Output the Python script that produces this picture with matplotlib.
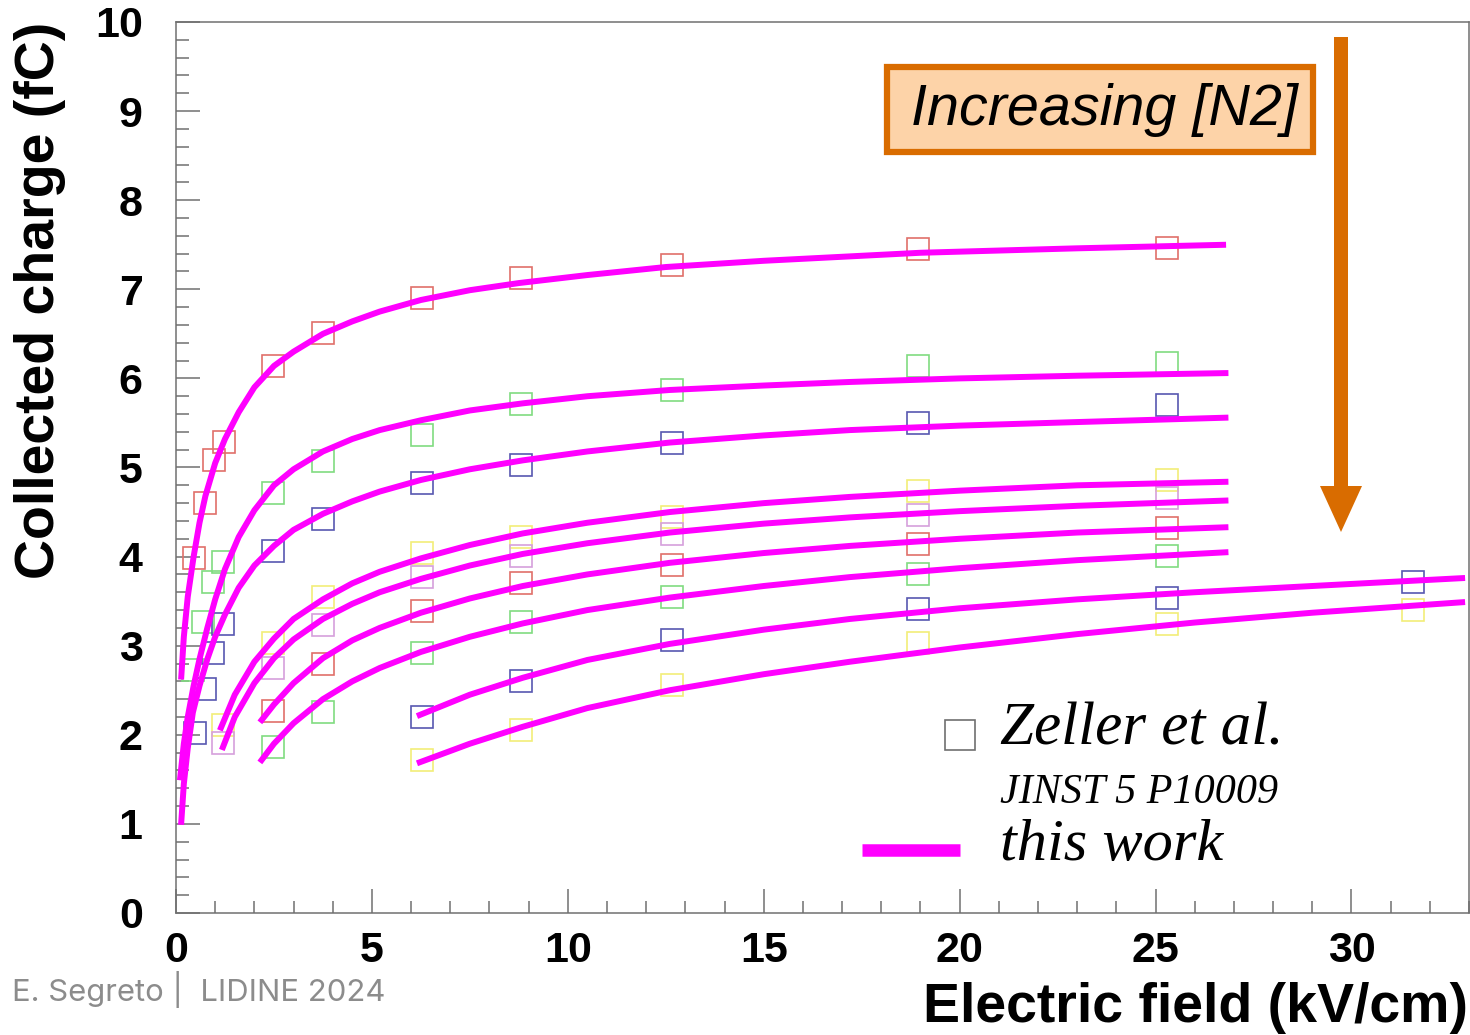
import numpy as np
import matplotlib
matplotlib.use('Agg')
import matplotlib.pyplot as plt
from matplotlib.patches import FancyArrow, Rectangle
from matplotlib.lines import Line2D

# Zeller et al. data (field kV/cm, charge fC), one list per N2 concentration
zx1 = [0.46, 0.74, 0.97, 1.22, 2.47, 3.75, 6.28, 8.8, 12.65, 18.95, 25.28]
zy1 = [3.98, 4.60, 5.08, 5.29, 6.14, 6.51, 6.90, 7.13, 7.27, 7.45, 7.46]
zx2 = [0.43, 0.69, 0.94, 1.2, 2.47, 3.75, 6.28, 8.8, 12.65, 18.95, 25.28]
zy2 = [2.73, 3.27, 3.71, 3.94, 4.71, 5.07, 5.36, 5.71, 5.87, 6.14, 6.17]
zx3 = [0.48, 0.74, 0.94, 1.2, 2.47, 3.75, 6.28, 8.8, 12.65, 18.95, 25.28]
zy3 = [2.02, 2.51, 2.92, 3.24, 4.06, 4.42, 4.83, 5.03, 5.27, 5.50, 5.70]
zx4 = [1.2, 2.47, 3.75, 6.28, 8.8, 12.65, 18.95, 25.28]
zy4 = [2.11, 3.03, 3.55, 4.04, 4.22, 4.45, 4.74, 4.86]
zx5 = [1.2, 2.47, 3.75, 6.28, 8.8, 12.65, 18.95, 25.28]
zy5 = [1.91, 2.75, 3.23, 3.77, 4.01, 4.25, 4.47, 4.66]
zx6 = [2.47, 3.75, 6.28, 8.8, 12.65, 18.95, 25.28]
zy6 = [2.27, 2.79, 3.39, 3.70, 3.91, 4.14, 4.32]
zx7 = [2.47, 3.75, 6.28, 8.8, 12.65, 18.95, 25.28]
zy7 = [1.86, 2.26, 2.92, 3.27, 3.55, 3.80, 4.01]
zx8 = [6.28, 8.8, 12.65, 18.95, 25.28, 31.58]
zy8 = [2.20, 2.60, 3.06, 3.41, 3.54, 3.71]
zx9 = [6.28, 8.8, 12.65, 18.95, 25.28, 31.58]
zy9 = [1.72, 2.05, 2.56, 3.03, 3.24, 3.40]
zcolors = ['#e0706a', '#80dc80', '#5858b0', '#f2ee78', '#d6a0dc',
           '#e0706a', '#80dc80', '#5858b0', '#f2ee78']

# this work (fit curves)
cx1 = [0.13, 0.2, 0.3, 0.45, 0.6, 0.75, 1.0, 1.25, 1.6, 2.0, 2.5, 3.0, 3.75, 4.5, 5.2, 6.25, 7.5, 8.75, 10.5, 12.5, 15, 19, 23, 26.8]
cy1 = [2.62, 3.1, 3.55, 4.0, 4.38, 4.68, 5.05, 5.32, 5.62, 5.9, 6.14, 6.3, 6.5, 6.64, 6.75, 6.88, 6.99, 7.07, 7.16, 7.25, 7.32, 7.41, 7.46, 7.5]
cx2 = [0.1, 0.2, 0.3, 0.45, 0.6, 0.8, 1.0, 1.25, 1.6, 2.0, 2.5, 3.0, 3.75, 4.5, 5.2, 6.25, 7.5, 8.85, 10.5, 12.6, 15, 17.2, 20, 23, 26.86]
cy2 = [1.49, 1.9, 2.2, 2.55, 2.85, 3.2, 3.52, 3.86, 4.22, 4.52, 4.8, 4.98, 5.18, 5.32, 5.42, 5.53, 5.64, 5.72, 5.8, 5.87, 5.92, 5.96, 6.0, 6.03, 6.06]
cx3 = [0.13, 0.2, 0.3, 0.43, 0.6, 0.8, 1.0, 1.25, 1.6, 2.0, 2.5, 3.0, 3.75, 4.5, 5.2, 6.25, 7.5, 8.85, 10.5, 12.6, 15, 17.2, 20, 23, 26.86]
cy3 = [0.99, 1.45, 1.85, 2.25, 2.55, 2.85, 3.1, 3.35, 3.65, 3.9, 4.12, 4.3, 4.48, 4.62, 4.73, 4.86, 4.98, 5.08, 5.18, 5.28, 5.36, 5.42, 5.47, 5.51, 5.56]
cx4 = [1.12, 1.5, 2.0, 2.5, 3.0, 3.75, 4.5, 5.2, 6.25, 7.5, 8.85, 10.5, 12.6, 15, 17.2, 20, 23, 26.86]
cy4 = [2.05, 2.45, 2.82, 3.08, 3.3, 3.52, 3.7, 3.83, 3.98, 4.13, 4.26, 4.38, 4.5, 4.6, 4.67, 4.74, 4.8, 4.84]
cx5 = [1.17, 1.5, 2.0, 2.5, 3.0, 3.75, 4.5, 5.2, 6.25, 7.5, 8.85, 10.5, 12.6, 15, 17.2, 20, 23, 26.86]
cy5 = [1.83, 2.2, 2.58, 2.86, 3.07, 3.3, 3.47, 3.6, 3.75, 3.9, 4.03, 4.15, 4.27, 4.37, 4.44, 4.51, 4.57, 4.63]
cx6 = [2.14, 2.5, 3.0, 3.75, 4.5, 5.2, 6.25, 7.5, 8.85, 10.5, 12.6, 15, 17.2, 20, 23, 26.86]
cy6 = [2.14, 2.34, 2.58, 2.86, 3.06, 3.2, 3.37, 3.53, 3.67, 3.8, 3.93, 4.04, 4.12, 4.2, 4.27, 4.33]
cx7 = [2.14, 2.5, 3.0, 3.75, 4.5, 5.2, 6.25, 7.5, 8.85, 10.5, 12.6, 15, 17.2, 20, 23, 26.86]
cy7 = [1.69, 1.9, 2.13, 2.4, 2.6, 2.75, 2.93, 3.1, 3.25, 3.4, 3.54, 3.67, 3.77, 3.87, 3.96, 4.05]
cx8 = [6.15, 7.5, 8.85, 10.5, 12.6, 15, 17.2, 20, 23, 26, 29, 32.9]
cy8 = [2.21, 2.45, 2.64, 2.84, 3.02, 3.18, 3.3, 3.42, 3.52, 3.6, 3.67, 3.76]
cx9 = [6.15, 7.5, 8.85, 10.5, 12.6, 15, 17.2, 20, 23, 26, 29, 32.9]
cy9 = [1.68, 1.9, 2.09, 2.3, 2.5, 2.68, 2.82, 2.98, 3.13, 3.26, 3.37, 3.49]

zx = [zx1, zx2, zx3, zx4, zx5, zx6, zx7, zx8, zx9]
zy = [zy1, zy2, zy3, zy4, zy5, zy6, zy7, zy8, zy9]
cx = [cx1, cx2, cx3, cx4, cx5, cx6, cx7, cx8, cx9]
cy = [cy1, cy2, cy3, cy4, cy5, cy6, cy7, cy8, cy9]

W, H = 1470, 1035
fig = plt.figure(figsize=(W / 100, H / 100), dpi=100)
ax = fig.add_axes([176 / W, 1 - 913 / H, (1469 - 176) / W, (913 - 22) / H])

for i in range(9):
    ax.plot(zx[i], zy[i], 's', ms=15.5, mfc='none', mec=zcolors[i], mew=1.2, zorder=2)
for i in range(9):
    ax.plot(cx[i], cy[i], '-', color='#ff00ff', lw=4.3, solid_capstyle='butt',
            solid_joinstyle='round', zorder=3)

ax.set_xlim(0, 33)
ax.set_ylim(0, 10)
ax.set_xticks(np.arange(0, 35, 5))
ax.set_xticks(np.arange(0, 34, 1), minor=True)
ax.set_yticks(np.arange(0, 11, 1))
ax.set_yticks(np.arange(0, 10.01, 0.2), minor=True)
ax.tick_params(which='both', direction='in', color='#707070', width=1.1,
               top=False, right=False)
ax.tick_params(which='major', length=17)
ax.tick_params(which='minor', length=9)
ax.tick_params(axis='x', pad=13)
ax.tick_params(axis='y', pad=24)
for lab in ax.get_xticklabels() + ax.get_yticklabels():
    lab.set_fontsize(31)
    lab.set_fontweight('bold')
    lab.set_family(['Liberation Sans', 'DejaVu Sans'])
for sp in ax.spines.values():
    sp.set_color('#707070')
    sp.set_linewidth(1.1)

fig.text(40 / W, 1 - 22 / H, 'Collected charge (fC)', rotation=90, ha='center', va='top',
         fontsize=40, fontweight='bold', family=['Liberation Sans', 'DejaVu Sans'])
fig.text(1468 / W, 1 - 1008 / H, 'Electric field (kV/cm)', ha='right', va='center',
         fontsize=40, fontweight='bold', family=['Liberation Sans', 'DejaVu Sans'])
fig.text(12 / W, 1 - 990 / H, 'E. Segreto |  LIDINE 2024', ha='left', va='center',
         fontsize=22.3, color='#8c8c8c', family=['Inter', 'DejaVu Sans'])

# legend, hand placed like the original
fig.add_artist(Line2D([960 / W], [1 - 735 / H], marker='s', ms=21, mfc='none',
                      mec='#707070', mew=1.2, transform=fig.transFigure))
fig.add_artist(Line2D([862 / W, 960 / W], [1 - 850 / H, 1 - 850 / H], color='#ff00ff',
                      lw=9, solid_capstyle='butt', transform=fig.transFigure))
serif = ['Liberation Serif', 'DejaVu Serif']
fig.text(1000 / W, 1 - 730 / H, 'Zeller et al.', ha='left', va='center', fontsize=44,
         style='italic', family=serif)
fig.text(1000 / W, 1 - 793 / H, 'JINST 5 P10009', ha='left', va='center', fontsize=30.3,
         style='italic', family=serif)
fig.text(1000 / W, 1 - 846 / H, 'this work', ha='left', va='center', fontsize=43.5,
         style='italic', family=serif)

# Increasing [N2] box and arrow
orange = '#d96c00'
fig.add_artist(Rectangle((887 / W, 1 - 152 / H), (1313 - 887) / W, (152 - 67) / H,
                         facecolor='#fdd3a8', edgecolor=orange, lw=4.5,
                         transform=fig.transFigure))
fig.text(1104 / W, 1 - 110 / H, 'Increasing [N2]', ha='center', va='center', fontsize=41.4,
         style='italic', family=['Liberation Sans', 'DejaVu Sans'])
fig.add_artist(FancyArrow(1341 / W, 1 - 37 / H, 0, -(532 - 37) / H, width=14 / W,
                          head_width=42 / W, head_length=46 / H,
                          length_includes_head=True, color=orange, lw=0,
                          transform=fig.transFigure))

fig.savefig('out.png', dpi=100)
